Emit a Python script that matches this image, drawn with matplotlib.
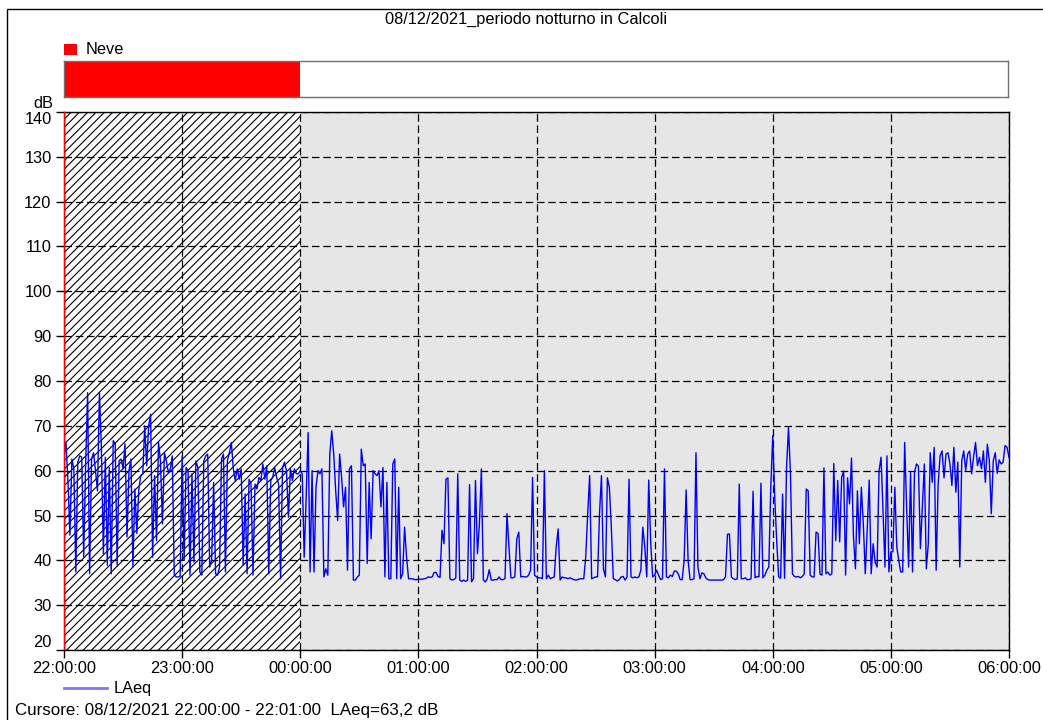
import numpy as np
import matplotlib
matplotlib.use("Agg")
import matplotlib.pyplot as plt
from matplotlib.patches import Rectangle
from matplotlib.lines import Line2D

plt.rcParams['font.family'] = ['Liberation Sans', 'DejaVu Sans']
plt.rcParams['hatch.linewidth'] = 0.8

title = "08/12/2021_periodo notturno in Calcoli"
cursor_text = "Cursore: 08/12/2021 22:00:00 - 22:01:00  LAeq=63,2 dB"
series_name = "LAeq"
event_name = "Neve"

# one-minute LAeq values (dB), one list per hour
h22 = [63.2, 66.3, 57.8, 45.6, 62.6, 60.4, 37.4, 61.9, 63.3, 63.0,
       40.7, 61.5, 77.4, 37.0, 62.6, 64.0, 60.0, 55.5, 77.4, 65.0,
       41.5, 63.0, 38.9, 60.7, 37.0, 66.7, 66.0, 38.9, 62.2, 62.6,
       60.4, 66.0, 45.2, 60.0, 62.6, 38.5, 55.9, 46.0, 55.9, 58.9,
       59.3, 70.0, 61.1, 70.0, 72.6, 40.7, 58.9, 44.4, 66.3, 62.2,
       48.1, 64.0, 62.2, 59.6, 60.4, 63.3, 36.7, 36.3, 36.3, 36.5]
h23 = [63.3, 40.0, 60.7, 60.0, 36.7, 59.3, 39.6, 62.2, 60.7, 37.4,
       36.7, 62.2, 63.3, 63.7, 38.5, 40.0, 57.4, 37.0, 36.7, 38.5,
       62.6, 63.7, 37.4, 62.2, 64.0, 66.3, 60.4, 57.8, 60.4, 58.1,
       60.4, 38.9, 54.8, 37.0, 58.1, 57.0, 36.7, 57.0, 55.9, 58.5,
       57.8, 61.5, 58.1, 61.1, 37.0, 57.8, 58.5, 60.7, 58.5, 57.0,
       35.9, 60.7, 61.9, 60.0, 49.6, 60.4, 57.8, 60.4, 59.3, 59.3]
h00 = [60.0, 59.3, 40.7, 54.0, 68.5, 37.4, 60.0, 37.4, 56.3, 60.0,
       59.3, 60.4, 36.3, 38.1, 36.7, 63.7, 68.9, 63.7, 55.5, 48.9,
       63.7, 58.5, 51.9, 56.3, 37.8, 60.4, 61.1, 35.6, 35.6, 36.3,
       36.7, 64.8, 61.1, 61.5, 39.3, 57.4, 44.8, 60.0, 59.3, 58.9,
       60.0, 51.9, 60.7, 36.3, 57.4, 35.9, 35.9, 61.5, 62.6, 35.9,
       56.3, 35.9, 37.0, 47.4, 40.7, 35.9, 35.9, 35.9, 35.7, 35.7]
h01 = [35.8, 35.8, 35.8, 35.9, 36.0, 36.3, 36.2, 36.3, 37.3, 37.3,
       36.4, 36.2, 46.7, 43.7, 58.1, 58.4, 35.9, 35.6, 35.7, 36.1,
       59.3, 35.6, 35.3, 35.6, 35.3, 35.6, 56.9, 35.2, 35.9, 57.8,
       41.5, 48.1, 60.4, 35.6, 35.2, 35.9, 37.9, 35.6, 35.6, 35.7,
       35.7, 36.3, 35.7, 35.7, 35.9, 50.4, 43.0, 36.1, 36.1, 36.3,
       44.8, 46.3, 36.3, 36.4, 36.3, 36.3, 36.7, 37.8, 58.5, 36.7]
h02 = [36.3, 36.1, 36.1, 35.9, 60.0, 35.9, 36.7, 35.9, 36.1, 36.3,
       43.0, 47.0, 35.6, 36.3, 36.1, 36.1, 35.9, 36.1, 35.9, 35.7,
       35.6, 35.7, 35.9, 35.9, 35.9, 40.7, 50.4, 58.9, 35.9, 36.1,
       36.3, 36.3, 50.4, 58.9, 38.1, 36.3, 58.4, 56.3, 47.4, 35.9,
       35.7, 35.4, 35.7, 36.3, 36.4, 35.6, 36.3, 58.1, 36.3, 36.1,
       36.3, 36.1, 36.3, 37.8, 47.4, 43.0, 36.3, 57.9, 44.1, 36.3]
h03 = [36.7, 37.8, 36.7, 35.7, 35.9, 60.4, 36.3, 36.1, 36.7, 36.4,
       37.6, 37.6, 37.0, 35.7, 35.7, 40.0, 55.7, 40.0, 35.7, 35.7,
       35.9, 64.0, 38.5, 35.9, 37.2, 37.0, 36.1, 35.7, 35.6, 35.6,
       35.6, 35.6, 35.6, 35.6, 35.6, 35.7, 36.3, 45.8, 45.9, 36.3,
       35.9, 35.7, 35.9, 57.0, 35.9, 35.9, 36.1, 35.7, 35.7, 35.9,
       55.4, 36.1, 36.4, 36.3, 57.2, 36.1, 36.7, 37.8, 38.5, 56.3]
h04 = [67.8, 54.0, 44.4, 36.3, 36.0, 54.8, 36.0, 60.7, 69.6, 59.3,
       37.0, 36.4, 36.3, 36.4, 36.1, 36.4, 37.0, 55.9, 55.5, 36.7,
       36.3, 36.3, 46.3, 46.0, 36.9, 36.7, 60.6, 37.0, 37.4, 36.7,
       37.0, 61.6, 44.4, 57.8, 44.1, 58.5, 59.9, 36.7, 58.4, 52.6,
       62.8, 45.2, 38.1, 55.5, 43.7, 56.3, 48.1, 37.0, 47.0, 57.9,
       37.0, 43.7, 39.6, 38.5, 60.0, 63.0, 51.1, 38.5, 63.3, 37.4]
h05 = [41.9, 41.9, 56.3, 43.0, 40.0, 37.4, 37.4, 66.3, 51.9, 38.5,
       59.6, 37.4, 59.6, 61.5, 61.0, 42.6, 51.9, 61.5, 38.1, 43.7,
       64.0, 57.4, 65.2, 37.8, 57.0, 63.3, 64.4, 58.4, 63.7, 64.0,
       61.5, 56.7, 65.2, 55.2, 61.9, 38.5, 62.2, 64.4, 60.1, 63.7,
       64.4, 59.3, 63.0, 66.3, 61.1, 63.0, 60.4, 64.4, 57.4, 65.9,
       62.2, 50.4, 62.2, 64.0, 59.4, 62.4, 61.5, 61.9, 65.6, 65.2,
       63.0]

laeq = np.array(h22 + h23 + h00 + h01 + h02 + h03 + h04 + h05)
minutes = np.arange(len(laeq))

hour_labels = ["22:00:00", "23:00:00", "00:00:00", "01:00:00", "02:00:00",
               "03:00:00", "04:00:00", "05:00:00", "06:00:00"]
hour_ticks = [0, 60, 120, 180, 240, 300, 360, 420, 480]
db_ticks = [20, 30, 40, 50, 60, 70, 80, 90, 100, 110, 120, 130, 140]

neve_start, neve_end = 0, 120  # minutes from 22:00

W, H = 1043, 720
fig = plt.figure(figsize=(W / 100, H / 100), dpi=100)


def fx(px):
    return px / W


def fy(py):
    return 1 - py / H


# outer frame
fig.add_artist(Rectangle((fx(7), -0.1), 1.2, fy(9) + 0.1, transform=fig.transFigure,
                         fill=False, ec='black', lw=1))
fig.text(fx(526), fy(19), title, ha='center', va='center', fontsize=11.8)

# event legend + band
fig.add_artist(Rectangle((fx(64), fy(55)), fx(13), 11 / H, transform=fig.transFigure,
                         fc='red', ec='none'))
fig.text(fx(86), fy(50), event_name, ha='left', va='center', fontsize=11.8)

axb = fig.add_axes([fx(64), fy(97), fx(944), 36 / H])
axb.barh(0, neve_end - neve_start, left=neve_start, height=1, color='red')
axb.set_xlim(0, 480)
axb.set_ylim(-0.5, 0.5)
axb.set_xticks([])
axb.set_yticks([])
for s in axb.spines.values():
    s.set_color('#707070')
    s.set_linewidth(1)

# main chart
ax = fig.add_axes([fx(64), fy(650), fx(945), 538 / H])
ax.set_facecolor('#e6e6e6')
ax.axvspan(neve_start, neve_end, facecolor='white', edgecolor='black',
           hatch='////', linewidth=0, zorder=1)
ax.set_axisbelow(False)
ax.grid(True, color='black', linestyle=(0, (6, 3)), linewidth=0.9)
ax.plot(minutes, laeq, color='#0000ff', lw=1.0, zorder=3)
ax.axvline(0, color='red', lw=1.6, zorder=4)

ax.set_xlim(0, 480)
ax.set_ylim(20, 140)
ax.set_xticks(hour_ticks)
ax.set_xticklabels(hour_labels)
ax.set_yticks(db_ticks)
ax.tick_params(axis='both', labelsize=11.8, length=6, width=1, direction='out')
ax.tick_params(axis='x', pad=2)
ax.tick_params(axis='y', pad=3)
ylabels = ax.get_yticklabels()
ylabels[0].set_verticalalignment('bottom')
ylabels[-1].set_verticalalignment('top')
for s in ax.spines.values():
    s.set_color('black')
    s.set_linewidth(1)

fig.text(fx(43), fy(103), "dB", ha='center', va='center', fontsize=11.8)

# series legend and cursor readout
fig.add_artist(Line2D([fx(64), fx(107)], [fy(688), fy(688)], transform=fig.transFigure,
                      color='#7878ff', lw=2))
fig.text(fx(114), fy(688), series_name, ha='left', va='center', fontsize=11.8)
fig.text(fx(15), fy(710), cursor_text, ha='left', va='center', fontsize=12.2)

fig.savefig("out.png", dpi=100)
